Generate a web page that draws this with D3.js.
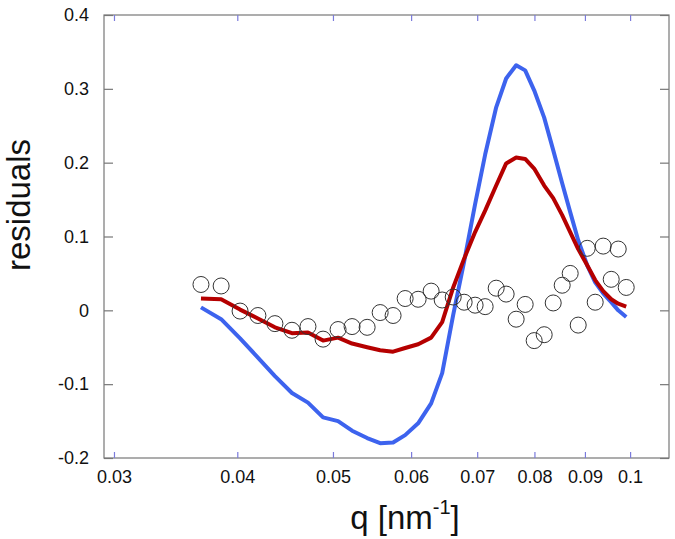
<!DOCTYPE html>
<html><head><meta charset="utf-8">
<script src="https://cdn.jsdelivr.net/npm/d3@7"></script>
<style>
html,body{margin:0;padding:0;background:#fff;}
text{font-family:"Liberation Sans",Arial,Helvetica,sans-serif;}
</style>
</head><body>
<svg id="chart" width="675" height="539"></svg>
<script>
// q values [nm^-1]
const q = [0.03675,0.03852,0.04026,0.04197,0.04367,0.04544,0.04717,0.04886,0.05060,0.05228,
  0.05415,0.05582,0.05753,0.05917,0.06099,0.06287,0.06451,0.06619,0.06790,0.06966,
  0.07131,0.07317,0.07489,0.07666,0.07829,0.07995,0.08184,0.08358,0.08535,0.08696,
  0.08860,0.09048,0.09218,0.09392,0.09569,0.09727,0.09910];
// residuals of data (open circles)
const dataResid = [0.035,0.033,-0.001,-0.007,-0.018,-0.027,-0.022,-0.039,-0.026,-0.022,
  -0.023,-0.003,-0.007,0.016,0.015,0.026,0.014,0.018,0.011,0.007,
  0.005,0.030,0.022,-0.012,0.008,-0.041,-0.033,0.010,0.034,0.050,
  -0.020,0.084,0.011,0.087,0.042,0.083,0.031];
// blue model
const blueResid = [0.004,-0.012,-0.038,-0.064,-0.089,-0.112,-0.125,-0.145,-0.150,-0.163,
  -0.173,-0.180,-0.179,-0.169,-0.153,-0.126,-0.085,-0.006,0.066,0.144,
  0.211,0.275,0.314,0.332,0.325,0.298,0.261,0.217,0.172,0.133,
  0.095,0.061,0.038,0.023,0.011,0.000,-0.009];
// red model
const redResid = [0.016,0.015,0.001,-0.011,-0.023,-0.031,-0.030,-0.041,-0.037,-0.045,
  -0.050,-0.054,-0.056,-0.051,-0.046,-0.037,-0.016,0.031,0.070,0.106,
  0.135,0.169,0.199,0.207,0.205,0.192,0.169,0.152,0.129,0.106,
  0.083,0.061,0.041,0.026,0.015,0.009,0.005];
const xTicks = [0.03,0.04,0.05,0.06,0.07,0.08,0.09,0.1];
const xTickLabels = ["0.03","0.04","0.05","0.06","0.07","0.08","0.09","0.1"];
const yTicks = [-0.2,-0.1,0,0.1,0.2,0.3,0.4];
const yTickLabels = ["-0.2","-0.1","0","0.1","0.2","0.3","0.4"];

const svg = d3.select("#chart");
const L = 104, R = 669, T = 15, B = 458;
const x = d3.scaleLog().domain([0.02931, 0.1095]).range([L, R]);
const y = d3.scaleLinear().domain([-0.2, 0.4]).range([B, T]);

// frame
svg.append("rect").attr("x", L).attr("y", T).attr("width", R - L).attr("height", B - T)
  .attr("fill", "none").attr("stroke", "#777").attr("stroke-width", 1.2);

// x axis bottom and top
const xb = d3.axisBottom(x).tickValues(xTicks).tickFormat((d, i) => xTickLabels[i]).tickSizeInner(-6).tickSizeOuter(0).tickPadding(12);
const gxb = svg.append("g").attr("transform", `translate(0,${B})`).call(xb);
const xt = d3.axisTop(x).tickValues(xTicks).tickFormat("").tickSizeInner(-6).tickSizeOuter(0);
const gxt = svg.append("g").attr("transform", `translate(0,${T})`).call(xt);
[gxb, gxt].forEach(g => {
  g.select(".domain").remove();
  g.selectAll(".tick line").attr("stroke", "#7b7bdc").attr("stroke-width", 1.2);
});
gxb.selectAll(".tick text").attr("font-size", 18).attr("fill", "#111").attr("dy", "0.71em");

// y axis left and right
const yl = d3.axisLeft(y).tickValues(yTicks).tickFormat((d, i) => yTickLabels[i]).tickSizeInner(-9).tickSizeOuter(0).tickPadding(15);
const gyl = svg.append("g").attr("transform", `translate(${L},0)`).call(yl);
const yr = d3.axisRight(y).tickValues(yTicks).tickFormat("").tickSizeInner(-9).tickSizeOuter(0);
const gyr = svg.append("g").attr("transform", `translate(${R},0)`).call(yr);
[gyl, gyr].forEach(g => {
  g.select(".domain").remove();
  g.selectAll(".tick line").attr("stroke", "#777").attr("stroke-width", 1.2);
});
gyl.selectAll(".tick text").attr("font-size", 18).attr("fill", "#111");

// lines
const line = vals => d3.line().x((d, i) => x(q[i])).y(d => y(d))(vals);
svg.append("path").attr("d", line(blueResid)).attr("fill", "none")
  .attr("stroke", "#3d63ee").attr("stroke-width", 4).attr("stroke-linejoin", "round");
svg.append("path").attr("d", line(redResid)).attr("fill", "none")
  .attr("stroke", "#b50000").attr("stroke-width", 4).attr("stroke-linejoin", "round");

// circles
svg.append("g").selectAll("circle").data(dataResid).join("circle")
  .attr("cx", (d, i) => x(q[i])).attr("cy", d => y(d)).attr("r", 8)
  .attr("fill", "none").attr("stroke", "#333").attr("stroke-width", 1);

// axis titles
svg.append("text").attr("transform", "translate(30,205) rotate(-90)")
  .attr("text-anchor", "middle").attr("font-size", 33).attr("fill", "#111").text("residuals");
const xt2 = svg.append("text").attr("x", 405).attr("y", 529).attr("text-anchor", "middle")
  .attr("font-size", 33).attr("fill", "#111");
xt2.append("tspan").text("q [nm");
xt2.append("tspan").attr("font-size", 20).attr("dy", -15).text("-1");
xt2.append("tspan").attr("dy", 15).text("]");
</script>
</body></html>
